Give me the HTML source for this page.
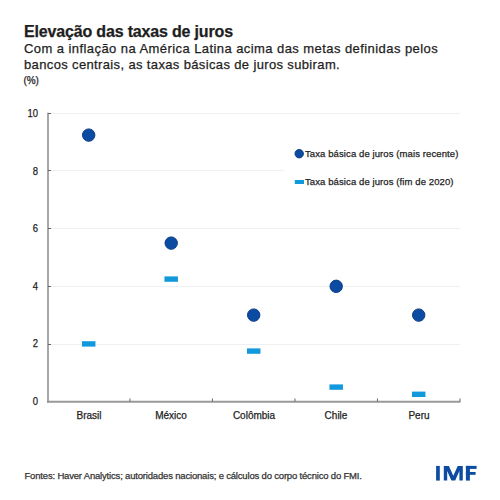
<!DOCTYPE html>
<html><head><meta charset="utf-8">
<style>
html,body{margin:0;padding:0;background:#fff;}
body{width:500px;height:500px;position:relative;overflow:hidden;font-family:"Liberation Sans",sans-serif;color:#1e1e1e;}
.t{position:absolute;white-space:nowrap;line-height:1;-webkit-text-stroke:0.25px currentColor;}
#title{left:24px;top:24px;font-size:16px;font-weight:bold;letter-spacing:-0.17px;}
.sub{left:24px;font-size:13px;letter-spacing:0.43px;}
#s1{top:42px;}
#s2{top:58px;letter-spacing:0.36px;}
#pct{left:23.6px;top:76px;font-size:10px;letter-spacing:-0.1px;}
.yl{font-size:10.5px;width:20px;text-align:right;left:17.5px;transform:scaleX(0.9);transform-origin:right center;}
.xl{font-size:10px;width:80px;text-align:center;}
.lg{font-size:9.5px;left:305px;letter-spacing:0.1px;}
#foot{left:24.5px;top:471px;font-size:9.5px;color:#333;letter-spacing:-0.18px;}
svg{position:absolute;left:0;top:0;}
</style></head><body>
<svg width="500" height="500" viewBox="0 0 500 500">
  <g stroke="#f0f0f0" stroke-width="1">
    <line x1="49" y1="113.5" x2="460" y2="113.5"/>
    <line x1="49" y1="170.5" x2="460" y2="170.5"/>
    <line x1="49" y1="228.5" x2="460" y2="228.5"/>
    <line x1="49" y1="286.5" x2="460" y2="286.5"/>
    <line x1="49" y1="344.5" x2="460" y2="344.5"/>
  </g>
  <rect x="284" y="140" width="190" height="60" fill="#fff"/>
  <g stroke-width="2">
    <line x1="48" y1="112.7" x2="48" y2="402.8" stroke="#a6a6a6"/>
    <line x1="47" y1="401.8" x2="460.5" y2="401.8" stroke="#999999"/>
  </g>
  <g stroke="#666" stroke-width="1">
    <line x1="48" y1="113.5" x2="51" y2="113.5"/>
    <line x1="48" y1="170.5" x2="51" y2="170.5"/>
    <line x1="48" y1="228.5" x2="51" y2="228.5"/>
    <line x1="48" y1="286.5" x2="51" y2="286.5"/>
    <line x1="48" y1="344.5" x2="51" y2="344.5"/>
    <line x1="129.95" y1="398.5" x2="129.95" y2="401.5"/>
    <line x1="212.45" y1="398.5" x2="212.45" y2="401.5"/>
    <line x1="294.95" y1="398.5" x2="294.95" y2="401.5"/>
    <line x1="377.45" y1="398.5" x2="377.45" y2="401.5"/>
    <line x1="459.95" y1="398.5" x2="459.95" y2="401.5"/>
  </g>
  <g fill="#1299dc">
    <rect x="81.95" y="341.20" width="13.5" height="5.4"/>
    <rect x="164.45" y="276.40" width="13.5" height="5.4"/>
    <rect x="246.95" y="348.40" width="13.5" height="5.4"/>
    <rect x="329.45" y="384.40" width="13.5" height="5.4"/>
    <rect x="411.95" y="391.60" width="13.5" height="5.4"/>
    <rect x="294.8" y="180" width="9.2" height="4"/>
  </g>
  <g fill="#0b4ca2" stroke="#0a3a84" stroke-width="1">
    <circle cx="88.70" cy="135.10" r="6.2"/>
    <circle cx="171.20" cy="243.10" r="6.2"/>
    <circle cx="253.70" cy="315.10" r="6.2"/>
    <circle cx="336.20" cy="286.30" r="6.2"/>
    <circle cx="418.70" cy="315.10" r="6.2"/>
    <circle cx="299.2" cy="153.7" r="4.2"/>
  </g>
  <g fill="#0d4ca0">
    <rect x="436.1" y="465.9" width="3.7" height="14.7"/>
    <polygon points="443.8,480.6 443.8,465.9 448.9,465.9 453.3,475.8 457.7,465.9 462.8,465.9 462.8,480.6 459.4,480.6 459.4,471 455.2,480.6 451.4,480.6 447.2,471 447.2,480.6"/>
    <rect x="465.9" y="465.9" width="4" height="14.7"/>
    <rect x="465.9" y="465.9" width="10.7" height="3"/>
    <rect x="465.9" y="472" width="9.7" height="2.8"/>
  </g>
</svg>
<div class="t" id="title">Elevação das taxas de juros</div>
<div class="t sub" id="s1">Com a inflação na América Latina acima das metas definidas pelos</div>
<div class="t sub" id="s2">bancos centrais, as taxas básicas de juros subiram.</div>
<div class="t" id="pct">(%)</div>

<div class="t yl" style="top:108.4px">10</div>
<div class="t yl" style="top:166.4px">8</div>
<div class="t yl" style="top:223.4px">6</div>
<div class="t yl" style="top:281.4px">4</div>
<div class="t yl" style="top:338.4px">2</div>
<div class="t yl" style="top:396.4px">0</div>

<div class="t xl" style="left:49px;top:410.5px">Brasil</div>
<div class="t xl" style="left:131px;top:410.5px">México</div>
<div class="t xl" style="left:214px;top:410.5px">Colômbia</div>
<div class="t xl" style="left:296px;top:410.5px">Chile</div>
<div class="t xl" style="left:379px;top:410.5px">Peru</div>

<div class="t lg" style="top:149px">Taxa básica de juros (mais recente)</div>
<div class="t lg" style="top:177px">Taxa básica de juros (fim de 2020)</div>

<div class="t" id="foot">Fontes: Haver Analytics; autoridades nacionais; e cálculos do corpo técnico do FMI.</div>

</body></html>
